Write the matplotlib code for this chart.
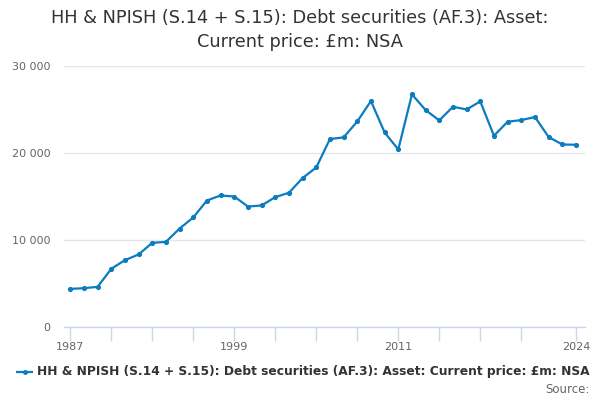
import matplotlib
matplotlib.use("Agg")
import matplotlib.pyplot as plt

# values (£m)
years = list(range(1987, 2025))
values = [4400, 4480, 4630, 6700, 7700, 8350, 9690, 9800, 11330, 12600,
          14550, 15130, 15010, 13860, 13980, 14940, 15440, 17130, 18350, 21610,
          21800, 23630, 25980, 22370, 20410, 26740, 24940, 23750, 25320, 25010,
          25930, 21990, 23600, 23790, 24140, 21840, 20990, 20950]

tick_years = list(range(1987, 2021, 3)) + [2024]
label_years = [1987, 1999, 2011, 2024]
y_ticks = [0, 10000, 20000, 30000]

title = "HH & NPISH (S.14 + S.15): Debt securities (AF.3): Asset:\nCurrent price: £m: NSA"
series_name = "HH & NPISH (S.14 + S.15): Debt securities (AF.3): Asset: Current price: £m: NSA"

blue = "#0b7cc1"
axis_col = "#ccd6eb"

plt.rcParams['font.family'] = ['DejaVu Sans']

fig = plt.figure(figsize=(6, 4), dpi=100)
ax = fig.add_axes([0.107, 0.182, 0.868, 0.653])

ax.plot(years, values, color=blue, lw=1.6, marker="o", markersize=2.7)

ax.set_xlim(1986.56, 2024.66)
ax.set_ylim(0, 30000)

ax.set_yticks(y_ticks)
ax.set_yticklabels([f"{v:,}".replace(",", " ") for v in y_ticks])
ax.yaxis.grid(True, color="#e6e6e6", lw=1)
ax.set_axisbelow(True)
ax.tick_params(axis="y", length=0, pad=10, labelsize=8, labelcolor="#666666")

ax.set_xticks(tick_years)
ax.set_xticklabels([str(y) if y in label_years else "" for y in tick_years])
ax.tick_params(axis="x", length=10, width=1, color=axis_col, labelsize=8,
               labelcolor="#666666", pad=1)

for s in ["top", "right", "left"]:
    ax.spines[s].set_visible(False)
ax.spines["bottom"].set_color(axis_col)
ax.spines["bottom"].set_linewidth(1)

fig.text(0.5, 0.925, title, ha="center", va="center", fontsize=12.8,
         color="#333333", linespacing=1.4)

# legend row
leg_line = plt.Line2D([0.027, 0.041, 0.055], [0.07, 0.07, 0.07], transform=fig.transFigure,
                      color=blue, lw=1.6, marker="o", markersize=2.5,
                      markevery=[1], solid_capstyle="butt")
fig.lines.append(leg_line)
fig.text(0.062, 0.07, series_name, ha="left", va="center", fontsize=8.8,
         fontweight="bold", color="#333333")
fig.text(0.983, 0.027, "Source:", ha="right", va="center", fontsize=8.5,
         color="#666666")

fig.savefig("out.png", dpi=100)
